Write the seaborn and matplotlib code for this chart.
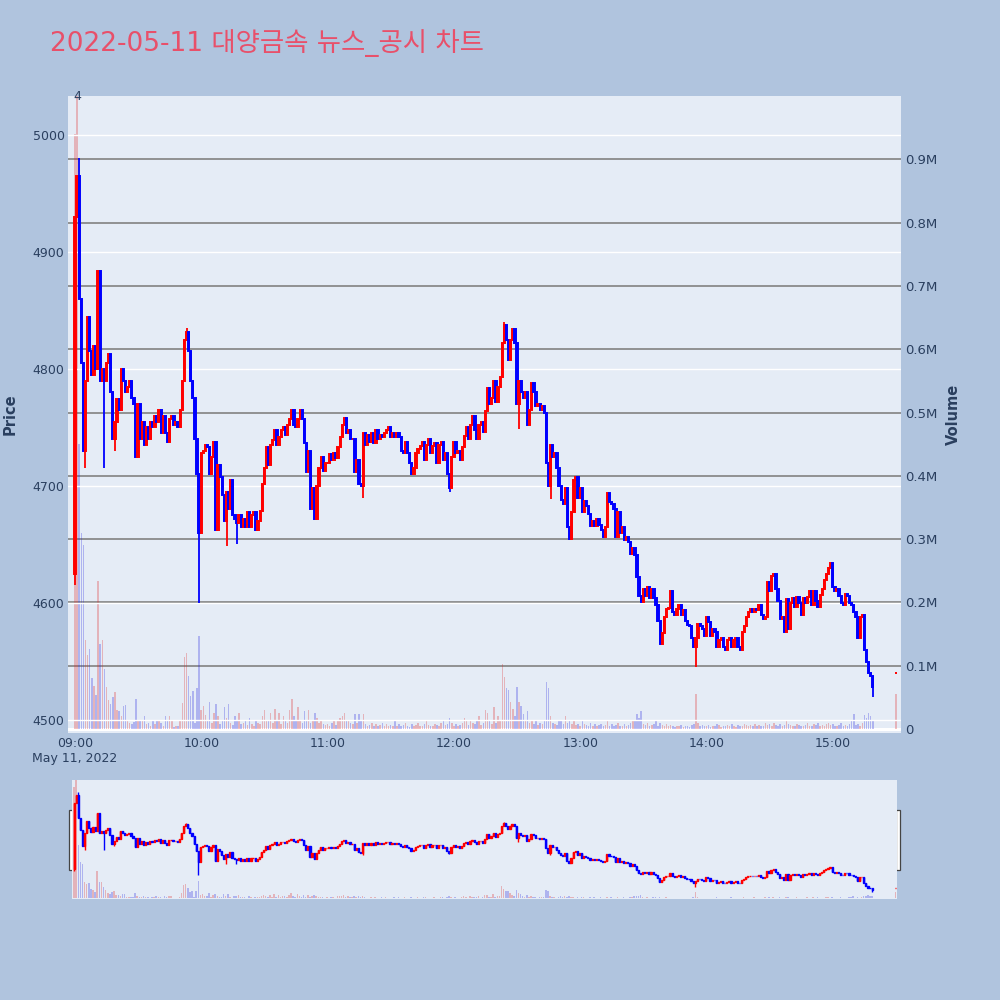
import numpy as np
import pandas as pd
import matplotlib
matplotlib.use("Agg")
import matplotlib.pyplot as plt
from matplotlib.patches import Rectangle
import seaborn as sns

# ---------------- data ----------------
title = "2022-05-11 대양금속 뉴스_공시 차트"

first_open = 4625
# one close per minute, 09:00 .. 15:19
close_session = [
    4930, 4965, 4860, 4805, 4730, 4790, 4844, 4815, 4795, 4820,
    4800, 4884, 4790, 4800, 4790, 4805, 4813, 4780, 4740, 4755,
    4774, 4765, 4800, 4790, 4780, 4785, 4790, 4775, 4770, 4725,
    4770, 4740, 4755, 4735, 4750, 4740, 4755, 4750, 4760, 4755,
    4765, 4745, 4760, 4745, 4738, 4757, 4760, 4752, 4755, 4750,
    4765, 4790, 4825, 4832, 4815, 4790, 4775, 4740, 4710, 4660,
    4728, 4730, 4735, 4733, 4710, 4725, 4738, 4662, 4718, 4708,
    4692, 4670, 4695, 4680, 4705, 4675, 4672, 4668, 4675, 4665,
    4672, 4665, 4678, 4665, 4675, 4678, 4662, 4670, 4679, 4702,
    4715, 4733, 4718, 4735, 4739, 4748, 4735, 4742, 4748, 4750,
    4744, 4752, 4757, 4765, 4752, 4750, 4757, 4765, 4757, 4737,
    4712, 4730, 4680, 4698, 4672, 4700, 4715, 4725, 4713, 4720,
    4720, 4727, 4722, 4728, 4724, 4733, 4742, 4752, 4758, 4745,
    4748, 4740, 4740, 4712, 4722, 4702, 4700, 4745, 4735, 4744,
    4738, 4745, 4737, 4748, 4740, 4744, 4742, 4745, 4748, 4750,
    4742, 4745, 4742, 4745, 4742, 4730, 4728, 4738, 4728, 4720,
    4710, 4715, 4728, 4732, 4734, 4738, 4722, 4735, 4740, 4728,
    4734, 4737, 4720, 4735, 4738, 4722, 4728, 4710, 4698, 4725,
    4738, 4728, 4730, 4722, 4733, 4743, 4750, 4740, 4752, 4760,
    4748, 4740, 4752, 4755, 4746, 4764, 4784, 4770, 4775, 4790,
    4772, 4785, 4793, 4822, 4838, 4825, 4808, 4825, 4834, 4822,
    4770, 4790, 4780, 4775, 4780, 4752, 4765, 4788, 4780, 4768,
    4770, 4765, 4768, 4762, 4720, 4700, 4735, 4725, 4728, 4715,
    4700, 4688, 4685, 4698, 4665, 4655, 4678, 4705, 4708, 4690,
    4698, 4678, 4687, 4683, 4676, 4666, 4670, 4666, 4672, 4667,
    4662, 4656, 4665, 4694, 4686, 4685, 4680, 4656, 4678, 4660,
    4665, 4654, 4656, 4652, 4642, 4647, 4641, 4622, 4606, 4601,
    4612, 4606, 4614, 4604, 4612, 4604, 4598, 4585, 4565, 4574,
    4588, 4595, 4596, 4610, 4592, 4590, 4595, 4598, 4590, 4594,
    4585, 4581, 4580, 4570, 4562, 4570, 4582, 4580, 4578, 4572,
    4588, 4584, 4572, 4578, 4575, 4562, 4568, 4570, 4562, 4560,
    4568, 4570, 4562, 4568, 4570, 4562, 4560, 4575, 4580, 4588,
    4592, 4595, 4592, 4595, 4594, 4598, 4590, 4586, 4588, 4618,
    4610, 4623, 4625, 4612, 4602, 4586, 4588, 4575, 4603, 4578,
    4600, 4604, 4597, 4605, 4600, 4590, 4604, 4600, 4605, 4610,
    4598, 4610, 4602, 4597, 4607, 4612, 4620, 4625, 4630, 4634,
    4614, 4610, 4612, 4606, 4600, 4598, 4608, 4606, 4600, 4598,
    4592, 4588, 4570, 4588, 4590, 4560, 4550, 4540, 4538, 4528,
]
close_auction = 4540          # 15:30 closing auction
auction_minute = 390

# wick extremes (candle index -> price)
extra_high = {2: 4980, 53: 4835, 204: 4840}
extra_low = {0: 4615, 5: 4715, 14: 4715, 19: 4730, 59: 4600, 72: 4649,
             77: 4650, 137: 4690, 178: 4695, 211: 4749, 226: 4689,
             295: 4545, 379: 4520}

# volume per minute, thousands of shares
volume_k = [
    940, 1010, 450, 310, 290, 140, 117, 127, 81, 68,
    53, 234, 135, 140, 95, 66, 46, 40, 50, 58,
    30, 29, 21, 37, 38, 13, 10, 8, 11, 47,
    15, 14, 12, 20, 8, 10, 5, 12, 8, 15,
    12, 10, 5, 20, 12, 20, 15, 3, 5, 5,
    12, 41, 113, 120, 84, 52, 60, 10, 65, 147,
    30, 36, 22, 15, 43, 10, 25, 40, 20, 8,
    12, 35, 18, 40, 10, 6, 20, 15, 25, 8,
    10, 12, 6, 18, 8, 5, 12, 10, 8, 20,
    30, 15, 12, 25, 10, 32, 12, 25, 8, 20,
    15, 10, 30, 47, 20, 12, 35, 15, 10, 28,
    12, 30, 10, 15, 25, 18, 10, 12, 8, 6,
    8, 5, 10, 12, 6, 15, 18, 20, 25, 12,
    15, 10, 8, 23, 10, 23, 12, 23, 8, 5,
    6, 10, 4, 8, 5, 6, 10, 4, 8, 5,
    6, 4, 12, 5, 8, 4, 6, 10, 5, 3,
    8, 4, 6, 10, 5, 4, 8, 12, 6, 4,
    5, 8, 6, 4, 10, 12, 6, 8, 18, 10,
    5, 8, 4, 6, 10, 18, 12, 6, 15, 10,
    8, 12, 20, 6, 10, 30, 25, 12, 8, 34,
    10, 20, 15, 103, 82, 64, 62, 42, 31, 20,
    66, 42, 36, 23, 12, 28, 10, 15, 8, 12,
    6, 10, 8, 12, 74, 64, 20, 10, 8, 6,
    12, 15, 8, 20, 10, 15, 8, 12, 6, 8,
    5, 12, 8, 6, 4, 10, 5, 8, 4, 6,
    8, 4, 6, 12, 5, 8, 4, 6, 10, 4,
    5, 8, 4, 6, 10, 12, 15, 23, 18, 28,
    8, 6, 10, 4, 6, 8, 12, 5, 10, 6,
    4, 8, 5, 6, 4, 3, 5, 4, 6, 3,
    4, 5, 3, 6, 8, 56, 10, 4, 6, 5,
    4, 6, 3, 5, 4, 8, 6, 3, 5, 4,
    6, 4, 8, 5, 3, 6, 4, 5, 8, 6,
    4, 6, 5, 8, 4, 6, 5, 4, 10, 6,
    8, 5, 10, 6, 4, 8, 5, 6, 12, 8,
    6, 5, 4, 8, 6, 5, 4, 6, 10, 5,
    4, 8, 6, 10, 5, 6, 4, 8, 10, 6,
    8, 5, 4, 6, 10, 4, 6, 5, 8, 12,
    23, 6, 8, 4, 10, 22, 18, 25, 20, 15,
]
auction_volume_k = 55

tick_minutes = [0, 60, 120, 180, 240, 300, 360]
tick_labels = ["09:00\nMay 11, 2022", "10:00", "11:00", "12:00", "13:00", "14:00", "15:00"]
price_ticks = [4500, 4600, 4700, 4800, 4900, 5000]
vol_ticks = [0, 100000, 200000, 300000, 400000, 500000, 600000, 700000, 800000, 900000]
vol_labels = ["0", "0.1M", "0.2M", "0.3M", "0.4M", "0.5M", "0.6M", "0.7M", "0.8M", "0.9M"]

assert len(close_session) == 380 and len(volume_k) == 380

# ---------------- derived OHLC ----------------
minutes = list(range(len(close_session))) + [auction_minute]
closes = close_session + [close_auction]
opens = [first_open] + close_session[:-1] + [close_auction]
highs = [max(o, c, extra_high.get(i, 0)) for i, (o, c) in enumerate(zip(opens, closes))]
lows = [min(o, c, extra_low.get(i, 10 ** 9)) for i, (o, c) in enumerate(zip(opens, closes))]
up = [c >= o for o, c in zip(opens, closes)]

RED = "#FF0000"
BLUE = "#0000FF"
cols = [RED if u else BLUE for u in up]

df_vol = pd.DataFrame({
    "minute": minutes,
    "volume": [v * 1000 for v in volume_k + [auction_volume_k]],
    "dir": ["up" if u else "down" for u in up],
})

# ---------------- style ----------------
plt.rcParams["font.family"] = ["DejaVu Sans", "Noto Sans CJK KR"]
PAPER = "#B0C4DE"
PLOTBG = "#E5ECF6"
TXT = "#2a3f5f"

fig = plt.figure(figsize=(10, 10), dpi=100, facecolor=PAPER)

XLIM = (-3.3, 392.4)
PLIM = (4488.9, 5033.3)
VLIM = (-6300, 1000000)


def draw_candles(a, lw_body, lw_wick, width):
    a.vlines(minutes, lows, highs, colors=cols, linewidth=lw_wick, zorder=3)
    heights = [abs(c - o) for o, c in zip(opens, closes)]
    bottoms = [min(o, c) for o, c in zip(opens, closes)]
    a.bar(minutes, heights, bottom=bottoms, width=width, color=cols,
          edgecolor=cols, linewidth=lw_body, zorder=4)


def draw_volume(a):
    sns.barplot(data=df_vol, x="minute", y="volume", hue="dir",
                palette={"up": RED, "down": BLUE}, native_scale=True,
                dodge=False, errorbar=None, alpha=0.28, width=0.72,
                linewidth=0, legend=False, ax=a)


# ---------------- main chart ----------------
ax = fig.add_axes([0.068, 0.267, 0.833, 0.637])
axv = ax.twinx()
ax.set_zorder(2)
axv.set_zorder(1)
ax.patch.set_visible(False)
axv.patch.set_visible(True)
axv.set_facecolor(PLOTBG)

draw_volume(axv)
axv.set_ylim(*VLIM)
axv.set_yticks(vol_ticks)
axv.set_yticklabels(vol_labels)
axv.yaxis.set_label_position("right")
axv.yaxis.tick_right()
axv.set_ylabel("")
axv.set_xlabel("")
axv.grid(False)
for y in vol_ticks[1:]:
    axv.axhline(y, color="#8a8a8a", linewidth=1.3, zorder=0.5)
axv.axhline(0, color="white", linewidth=2.2, zorder=0.6)

draw_candles(ax, lw_body=1.4, lw_wick=1.3, width=0.62)
ax.set_ylim(*PLIM)
ax.set_xlim(*XLIM)
axv.set_xlim(*XLIM)
ax.set_yticks(price_ticks)
ax.set_yticklabels([str(p) for p in price_ticks])
ax.yaxis.grid(True, color="white", linewidth=1.0)
ax.xaxis.grid(False)
ax.set_axisbelow(True)
ax.set_xticks(tick_minutes)
ax.set_xticklabels(tick_labels)

for a in (ax, axv):
    for s in a.spines.values():
        s.set_visible(False)
ax.tick_params(axis="y", length=0, pad=2.5, labelsize=9, labelcolor=TXT)
ax.tick_params(axis="x", length=0, pad=3, labelsize=9, labelcolor=TXT)
axv.tick_params(axis="y", length=0, pad=3, labelsize=9.5, labelcolor=TXT)
axv.tick_params(axis="x", length=0, labelbottom=False)

fig.text(0.010, 0.5855, "Price", rotation=90, ha="center", va="center",
         fontsize=10.5, fontweight="bold", color=TXT)
fig.text(0.953, 0.5855, "Volume", rotation=90, ha="center", va="center",
         fontsize=10.5, fontweight="bold", color=TXT)
fig.text(0.0773, 0.904, "4", ha="center", va="center", fontsize=9, color=TXT)

fig.text(0.05, 0.949, title, ha="left", va="baseline", fontsize=19,
         color="#E8506A")

# ---------------- range slider ----------------
sax = fig.add_axes([0.0724, 0.101, 0.8246, 0.119])
sav = sax.twinx()
sax.set_zorder(2)
sav.set_zorder(1)
sax.patch.set_visible(False)
sav.patch.set_visible(True)
sav.set_facecolor(PLOTBG)
draw_volume(sav)
draw_candles(sax, lw_body=1.0, lw_wick=1.0, width=0.55)
SXLIM = (-0.8, 390.8)
sax.set_xlim(*SXLIM)
sav.set_xlim(*SXLIM)
sax.set_ylim(*PLIM)
sav.set_ylim(*VLIM)
for a in (sax, sav):
    a.set_xticks([])
    a.set_yticks([])
    a.set_xlabel("")
    a.set_ylabel("")
    a.grid(False)
    for s in a.spines.values():
        s.set_visible(False)

for hx in (0.069, 0.8958):
    fig.add_artist(Rectangle((hx, 0.130), 0.0045, 0.060, transform=fig.transFigure,
                             facecolor="white", edgecolor="#444444", linewidth=0.9))

fig.savefig("out.png", dpi=100, facecolor=PAPER)
